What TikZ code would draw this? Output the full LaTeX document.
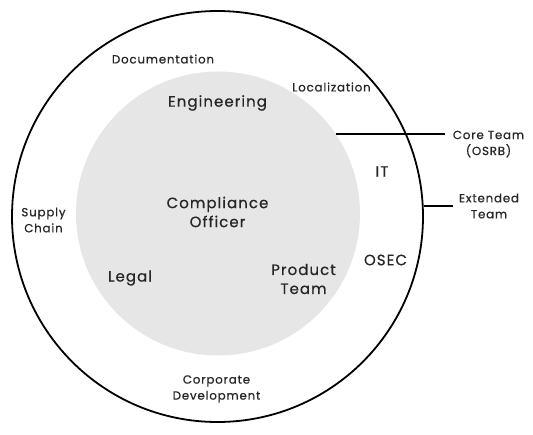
\documentclass[tikz,border=0pt]{standalone}
\usepackage{fontspec}
\setmainfont{Poppins}[LetterSpace=7, FakeBold=0.6]
\usepackage{xcolor}
\usetikzlibrary{positioning}
\definecolor{coregray}{HTML}{E6E6E6}
\definecolor{labelink}{HTML}{262626}

\begin{document}
\begin{tikzpicture}[x=1pt,y=-1pt,
    every node/.style={text=labelink, align=center, inner sep=0pt},
    small/.style={font=\fontsize{11.8}{16}\selectfont},
    big/.style={font=\fontsize{15}{19}\selectfont}]
    \useasboundingbox (0,0) rectangle (533,434);
    % the two rings
    \node[circle, draw=black, line width=1.8pt, minimum size=411pt] (outer) at (217.5,216.5) {};
    \node[circle, fill=coregray, minimum size=284pt] (inner) at (218,213.5) {};

    % core team
    \node[big] (eng) at (217.5,103) {Engineering};
    \node[big] (officer) at (217.5,212) {Compliance\\Officer};
    \node[big] (legal) at (130,278) {Legal};
    \node[big] (product) at (303.5,279) {Product\\Team};

    % extended team
    \node[small] (doc) at (163,59) {Documentation};
    \node[small] (loc) at (331.5,87) {Localization};
    \node[big] (it) at (382,171.5) {IT};
    \node[big] (osec) at (385.5,260) {OSEC};
    \node[small] (supply) at (43.5,220) {Supply\\Chain};
    \node[small] (corp) at (216.5,389) {Corporate\\Development};

    % legend
    \node[small] (coreteam) at (488.5,144) {Core Team\\(OSRB)};
    \node[small] (extteam) at (489,206) {Extended\\Team};
    \draw[line width=1.8pt, shorten >=8pt] (inner.34) -- (inner.34 -| coreteam.west);
    \draw[line width=1.8pt, shorten >=6pt] (outer.3) -- (outer.3 -| extteam.west);
\end{tikzpicture}
\end{document}
